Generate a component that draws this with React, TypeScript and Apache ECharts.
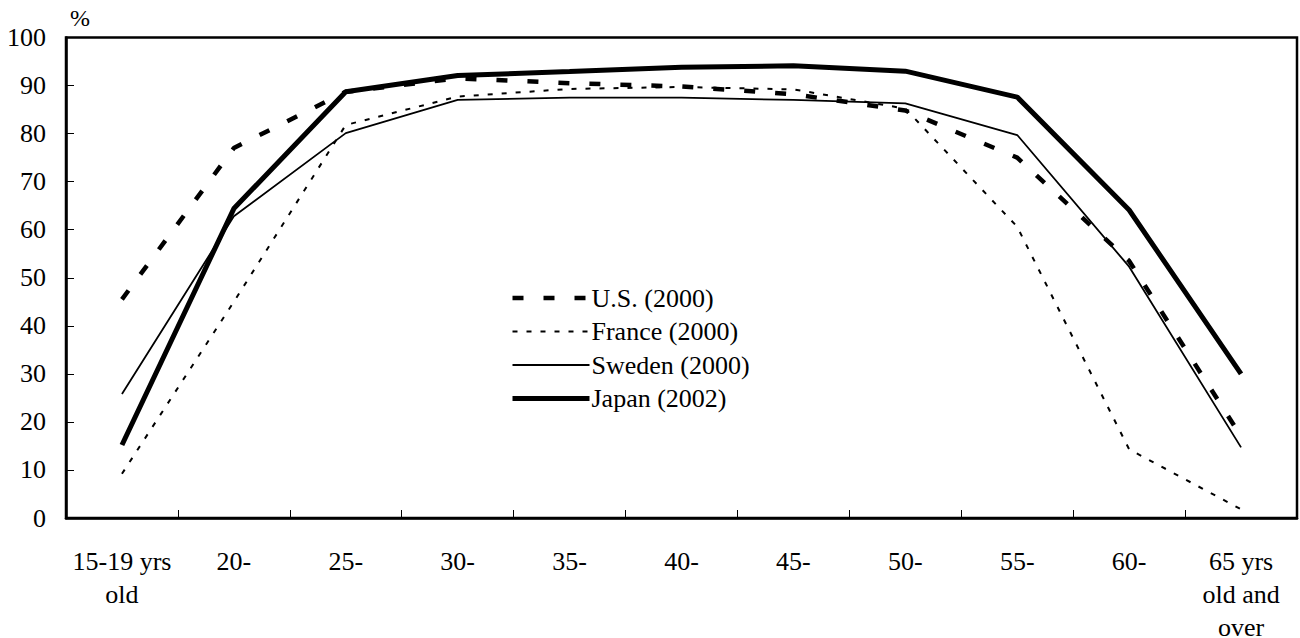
import React, { useEffect, useRef } from "react";
import * as echarts from "echarts";

const categories = ["15-19 yrs\nold", "20-", "25-", "30-", "35-", "40-", "45-", "50-", "55-", "60-", "65 yrs\nold and\nover"];
const usValues = [45.5, 77, 88.7, 91.5, 90.5, 89.8, 88.2, 84.8, 75, 53.5, 17];
const franceValues = [9.2, 45, 81.8, 87.7, 89.3, 89.7, 89.2, 85.2, 60.6, 14.3, 1.8];
const swedenValues = [25.8, 62.8, 80.1, 87.0, 87.5, 87.5, 87.0, 86.3, 79.7, 52.3, 14.7];
const japanValues = [15.2, 64.4, 88.7, 92.1, 92.9, 93.8, 94.1, 93.0, 87.6, 64.1, 30.0];
const seriesNames = ["U.S. (2000)", "France (2000)", "Sweden (2000)", "Japan (2002)"];
const lineWidths = [4.5, 2, 1.8, 5];
const lineTypes: any[] = [[11, 20], [5, 9], "solid", "solid"];

const FONT = "Liberation Serif";

export default function App() {
  const ref = useRef<HTMLDivElement>(null);
  useEffect(() => {
    if (!ref.current) return;
    const chart = echarts.init(ref.current, undefined, { renderer: "svg" });
    const valueSets = [usValues, franceValues, swedenValues, japanValues];
    chart.setOption({
      animation: false,
      backgroundColor: "#fff",
      textStyle: { fontFamily: FONT, color: "#000" },
      grid: {
        left: 66,
        right: 3,
        top: 37.5,
        bottom: 120,
        outerBoundsMode: "none",
        containLabel: false,
        show: true,
        borderColor: "#000",
        borderWidth: 2.5,
        backgroundColor: "transparent",
      },
      legend: {
        orient: "vertical",
        left: 510,
        top: 283,
        padding: 0,
        itemWidth: 77,
        itemHeight: 14,
        itemGap: 3.5,
        data: seriesNames.map((name, i) => ({
          name,
          itemStyle: { opacity: 0, color: "transparent", borderColor: "transparent", borderWidth: 0 },
          lineStyle: { color: "#000", width: lineWidths[i], type: lineTypes[i], cap: "butt", opacity: 1 },
        })),
        textStyle: { fontFamily: FONT, fontSize: 26, color: "#000", lineHeight: 30, padding: [0, 0, 0, -3] },
      },
      xAxis: {
        type: "category",
        data: categories,
        boundaryGap: true,
        axisLine: { lineStyle: { color: "#000", width: 2.5 } },
        axisTick: { show: true, inside: true, length: 8, lineStyle: { color: "#000", width: 1 } },
        axisLabel: { interval: 0, fontFamily: FONT, fontSize: 26, lineHeight: 33, color: "#000", margin: 27 },
        splitLine: { show: false },
      },
      yAxis: {
        type: "value",
        min: 0,
        max: 100,
        interval: 10,
        name: "%",
        nameLocation: "end",
        nameGap: 8,
        nameTextStyle: { fontFamily: FONT, fontSize: 24, color: "#000", align: "left", padding: [0, 0, 0, 4] },
        axisLine: { show: true, lineStyle: { color: "#000", width: 2.5 } },
        axisTick: { show: true, inside: true, length: 8, lineStyle: { color: "#000", width: 1 } },
        axisLabel: { fontFamily: FONT, fontSize: 26, color: "#000", margin: 20 },
        splitLine: { show: false },
      },
      series: seriesNames.map((name, i) => ({
        name,
        type: "line",
        data: valueSets[i],
        symbol: "none",
        showSymbol: false,
        lineStyle: { color: "#000", width: lineWidths[i], type: lineTypes[i], cap: "butt" },
        itemStyle: { color: "#000" },
      })),
    });
    return () => chart.dispose();
  }, []);
  return (
    <div
      ref={ref}
      style={{ position: "fixed", left: 0, top: 0, width: 1300, height: 638, background: "#fff" }}
    />
  );
}
